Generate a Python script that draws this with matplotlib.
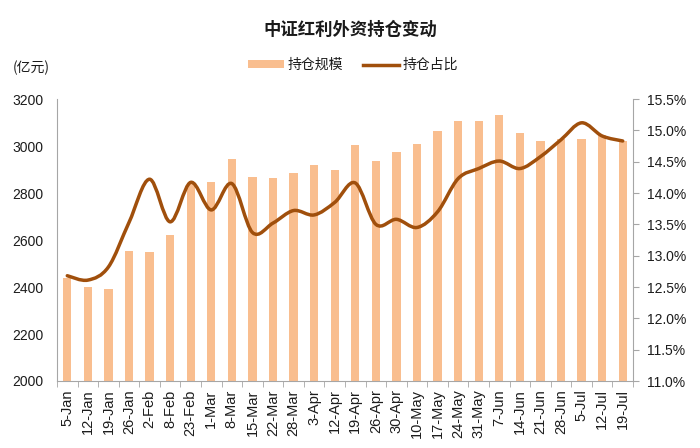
import matplotlib
matplotlib.use("Agg")
import matplotlib.pyplot as plt
import numpy as np
from matplotlib.path import Path
from matplotlib.patches import PathPatch, Patch
from matplotlib.lines import Line2D
from matplotlib.ticker import FuncFormatter, MultipleLocator

dates = ["5-Jan", "12-Jan", "19-Jan", "26-Jan", "2-Feb", "8-Feb", "23-Feb", "1-Mar",
         "8-Mar", "15-Mar", "22-Mar", "28-Mar", "3-Apr", "12-Apr", "19-Apr", "26-Apr",
         "30-Apr", "10-May", "17-May", "24-May", "31-May", "7-Jun", "14-Jun", "21-Jun",
         "28-Jun", "5-Jul", "12-Jul", "19-Jul"]
holdings = [2440, 2400, 2390, 2553, 2549, 2621, 2843, 2848, 2945, 2869, 2865, 2886,
            2920, 2898, 3004, 2936, 2976, 3009, 3065, 3105, 3106, 3132, 3054, 3021,
            3028, 3028, 3047, 3021]
share = [12.68, 12.61, 12.82, 13.53, 14.22, 13.54, 14.17, 13.73, 14.15, 13.37, 13.52, 13.72,
         13.65, 13.85, 14.16, 13.50, 13.58, 13.45, 13.70, 14.23, 14.39, 14.51, 14.39, 14.58,
         14.85, 15.12, 14.91, 14.83]

title = "中证红利外资持仓变动"
bar_label = "持仓规模"
line_label = "持仓占比"
unit_label = "(亿元)"

bar_color = "#F9BE8F"
line_color = "#A04F0C"
axis_color = "#A6A6A6"
text_color = "#1c1c1c"
num_font = ["Liberation Sans", "Noto Sans CJK SC"]
cjk_font = ["Noto Sans CJK SC", "Liberation Sans"]

fig = plt.figure(figsize=(7, 4.48), dpi=100)
ax = fig.add_axes([57 / 700, 1 - 381 / 448, (633 - 57) / 700, (381 - 99) / 448])
ax2 = ax.twinx()

x = np.arange(len(dates))
ax.bar(x, holdings, width=0.4, color=bar_color, zorder=2)
ax.set_ylim(2000, 3200)
ax.set_xlim(-0.5, len(dates) - 0.5)
ax.yaxis.set_major_locator(MultipleLocator(200))

# smooth line (Catmull-Rom rendered as cubic Bezier through the data points)
ys = np.array(share, dtype=float)
xs = x.astype(float)
verts = [(xs[0], ys[0])]
codes = [Path.MOVETO]
n = len(xs)
for i in range(n - 1):
    p0 = (xs[i - 1], ys[i - 1]) if i > 0 else (xs[i], ys[i])
    p1 = (xs[i], ys[i])
    p2 = (xs[i + 1], ys[i + 1])
    p3 = (xs[i + 2], ys[i + 2]) if i + 2 < n else (xs[i + 1], ys[i + 1])
    c1 = (p1[0] + (p2[0] - p0[0]) / 6, p1[1] + (p2[1] - p0[1]) / 6)
    c2 = (p2[0] - (p3[0] - p1[0]) / 6, p2[1] - (p3[1] - p1[1]) / 6)
    verts += [c1, c2, p2]
    codes += [Path.CURVE4] * 3
ax2.add_patch(PathPatch(Path(verts, codes), facecolor="none", edgecolor=line_color,
                        lw=2.5, capstyle="round", joinstyle="round", zorder=3))
ax2.set_ylim(11.0, 15.5)
ax2.yaxis.set_major_locator(MultipleLocator(0.5))
ax2.yaxis.set_major_formatter(FuncFormatter(lambda v, p: f"{v:.1f}%"))

for a in (ax, ax2):
    for s in a.spines.values():
        s.set_visible(False)
ax.spines["left"].set_visible(True)
ax.spines["bottom"].set_visible(True)
ax2.spines["right"].set_visible(True)
for s in ("left", "bottom"):
    ax.spines[s].set_color(axis_color)
ax2.spines["right"].set_color(axis_color)

ax.set_xticks(x)
ax.set_xticklabels(dates, rotation=90, fontsize=10.5, family=num_font, color=text_color)
ax.set_xticks(np.arange(-0.5, len(dates), 1.0), minor=True)
ax.tick_params(axis="x", which="major", length=0, pad=6)
ax.tick_params(axis="x", which="minor", length=4, color=axis_color, direction="out")
ax.tick_params(axis="y", length=0, pad=10, labelsize=10, labelcolor=text_color)
ax2.tick_params(axis="y", length=4, color=axis_color, pad=6, labelsize=10, labelcolor=text_color)
for lab in ax.get_yticklabels() + ax2.get_yticklabels():
    lab.set_family(num_font)

fig.text(0.5, 1 - 30 / 448, title, ha="center", va="center", fontsize=12.5,
         fontweight="bold", family=cjk_font, color="#1a1a1a")
fig.text(13 / 700, 1 - 68 / 448, unit_label, ha="left", va="center", fontsize=10,
         family=cjk_font, color=text_color)

handles = [Patch(facecolor=bar_color, edgecolor="none"),
           Line2D([0], [0], color=line_color, lw=2.5)]
leg = fig.legend(handles, [bar_label, line_label], loc="center",
                 bbox_to_anchor=(353 / 700, 1 - 65 / 448), ncol=2, frameon=False,
                 prop={"family": cjk_font, "size": 10}, handlelength=2.6,
                 handleheight=0.5, handletextpad=0.3, columnspacing=1.4)
for t in leg.get_texts():
    t.set_color(text_color)

fig.savefig("out.png", dpi=100)
